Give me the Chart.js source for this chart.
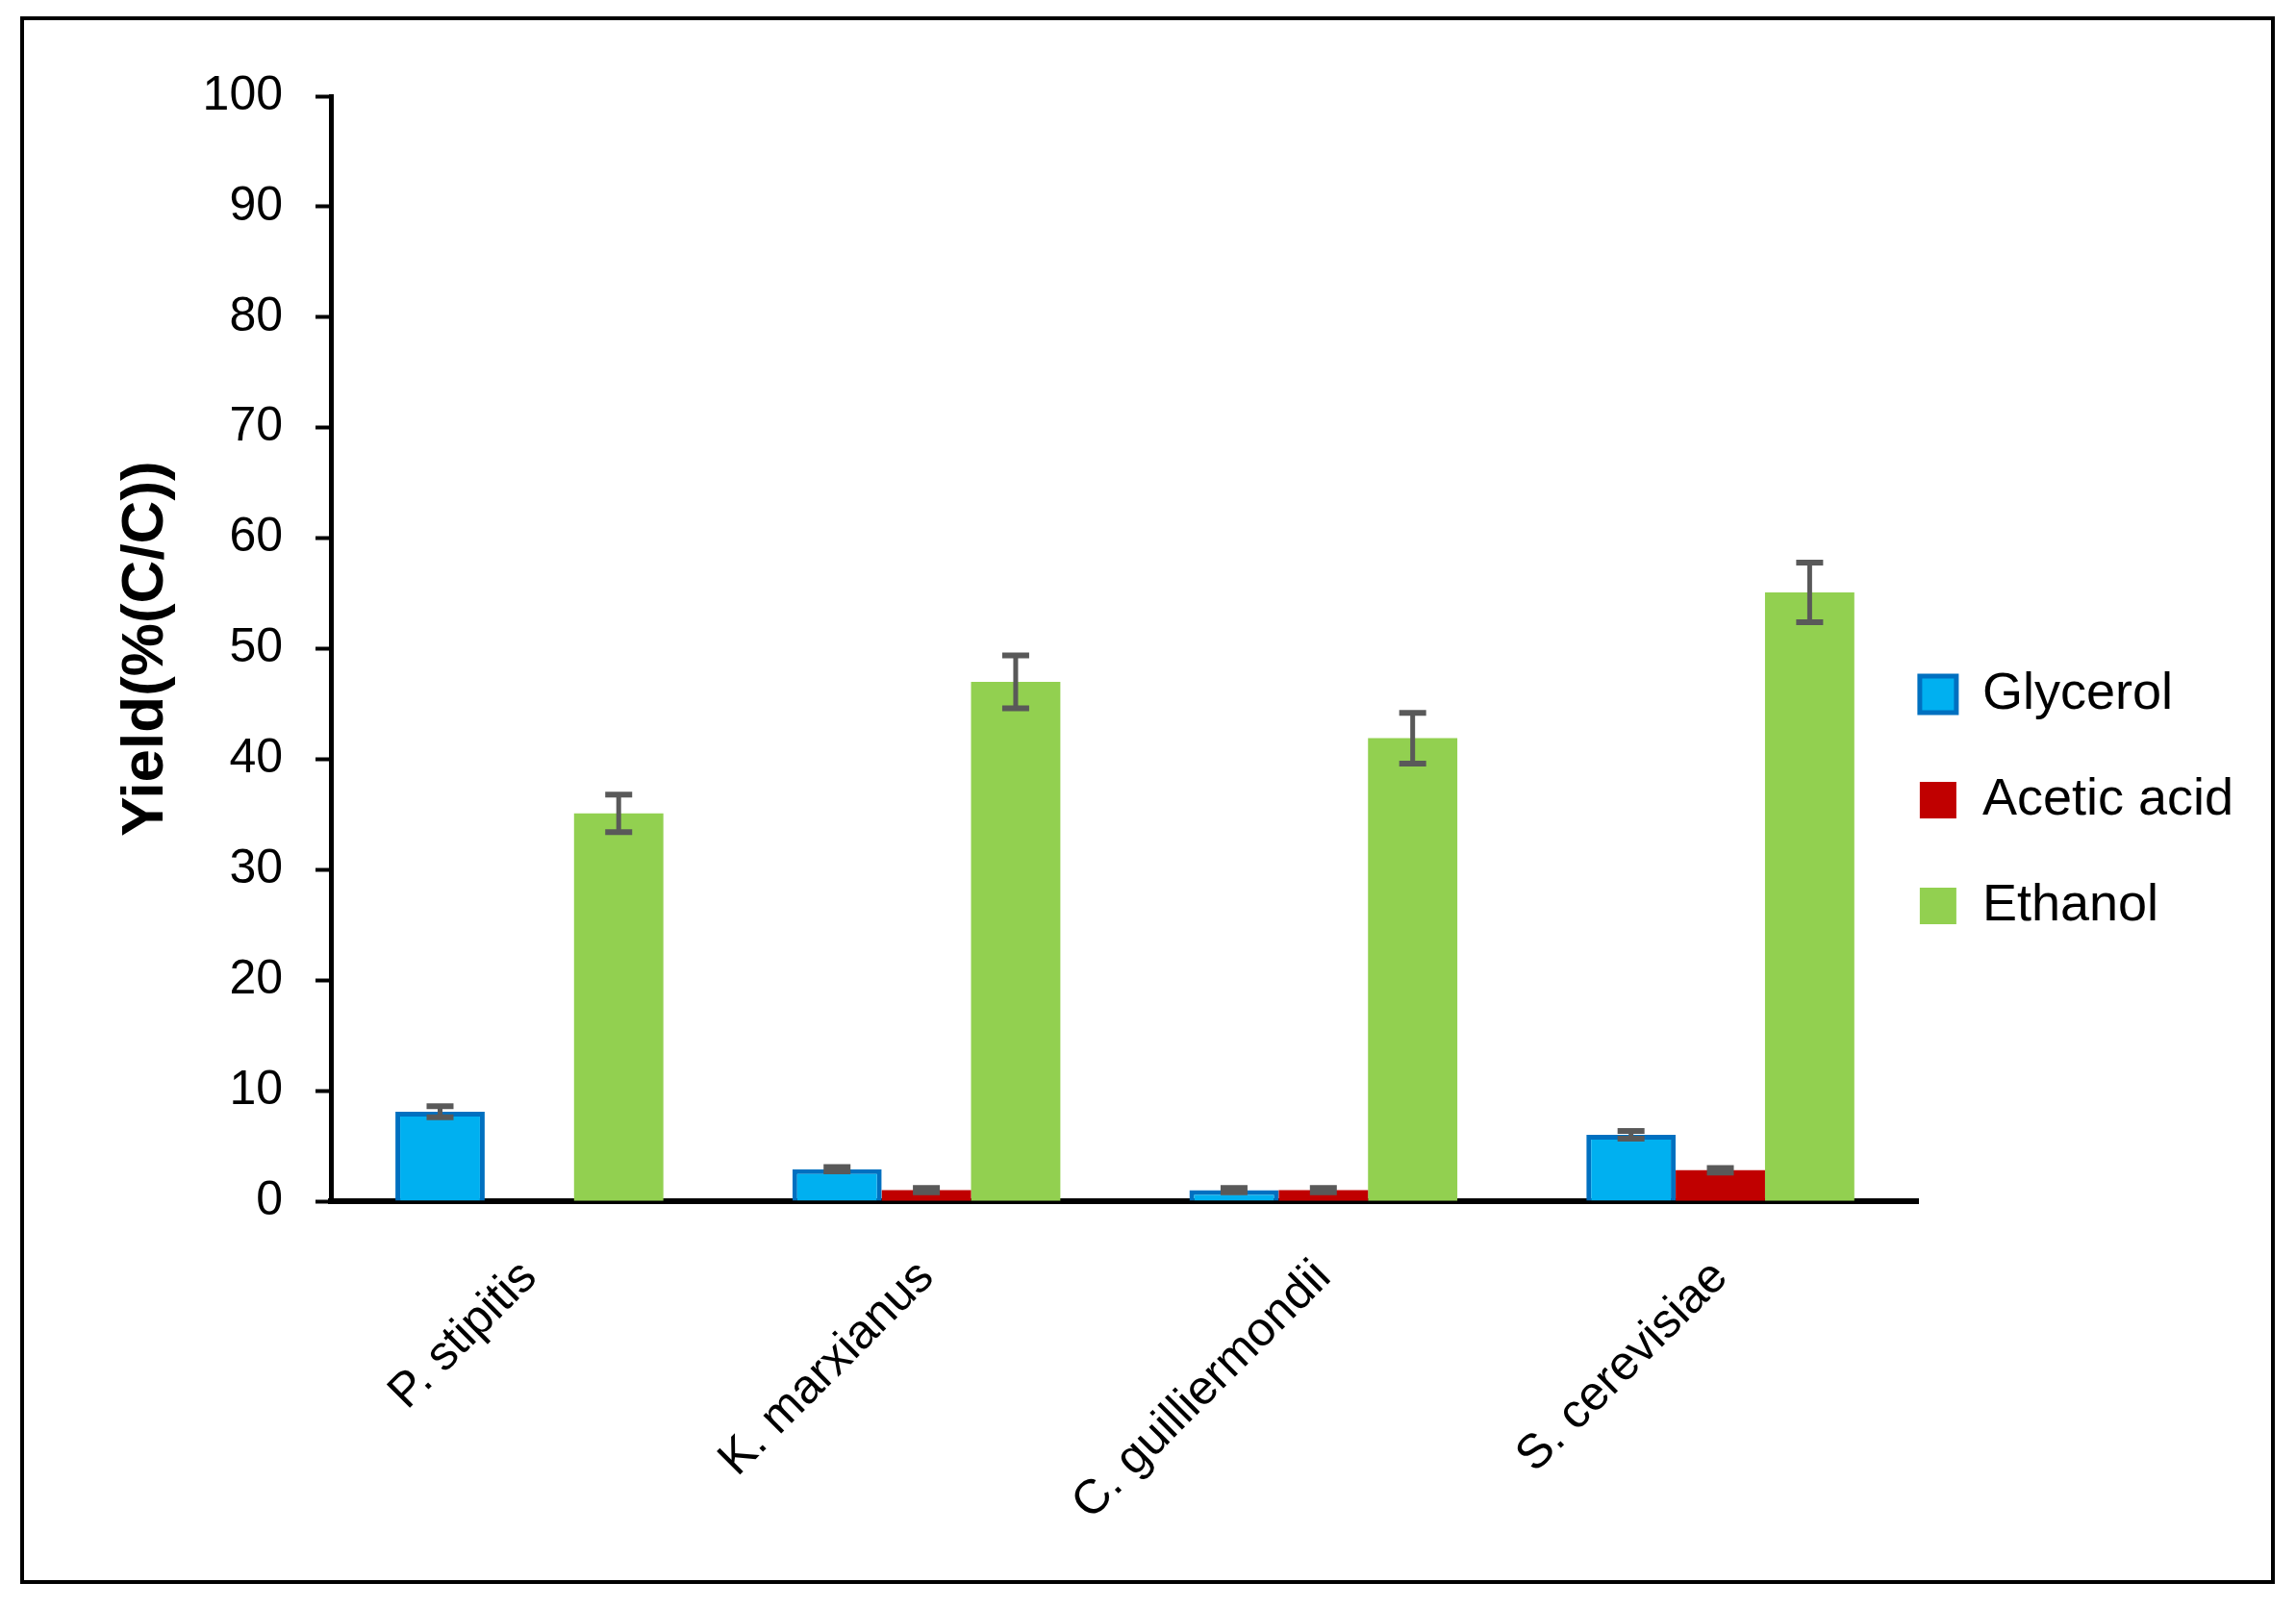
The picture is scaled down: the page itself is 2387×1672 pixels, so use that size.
<!DOCTYPE html>
<html>
<head>
<meta charset="utf-8">
<script src="https://cdn.jsdelivr.net/npm/chart.js@4/dist/chart.umd.min.js"></script>
<style>
    body { margin: 0; background: #ffffff; }
    canvas { display: block; }
</style>
</head>
<body>
<canvas id="myChart" width="2387" height="1672"></canvas>
<script>
const categories = ['P. stipitis', 'K. marxianus', 'C. guilliermondii', 'S. cerevisiae'];

const glycerol = [8.1, 2.9, 1.0, 6.0];
const glycerolErr = [0.5, 0.2, 0.2, 0.35];

const aceticAcid = [null, 1.0, 1.0, 2.8];
const aceticAcidErr = [null, 0.2, 0.2, 0.2];

const ethanol = [35.1, 47.0, 41.9, 55.1];
const ethanolErr = [1.7, 2.4, 2.3, 2.7];

const yTicks = [0, 10, 20, 30, 40, 50, 60, 70, 80, 90, 100];

const FONT = "'Liberation Sans', Arial, sans-serif";

/**
 * White background and the outer frame.
 */
const framePlugin = {
    id: 'frame',
    beforeDraw: (chart) => {
        const ctx = chart.ctx;
        ctx.save();
        ctx.fillStyle = '#ffffff';
        ctx.fillRect(0, 0, chart.width, chart.height);
        ctx.strokeStyle = '#000000';
        ctx.lineWidth = 4;
        ctx.strokeRect(23, 19, 2340, 1626);
        ctx.restore();
    },
};

/**
 * Moves the legend closer to the plot, like the original.
 */
const legendShiftPlugin = {
    id: 'legendShift',
    afterLayout: (chart) => {
        const legend = chart.legend;
        legend.left -= 55;
        legend.right -= 55;
        legend.top -= 54;
        legend.bottom -= 54;
    },
};

/**
 * Draws the error bars from the error arrays, through the y scale.
 */
const errorBarPlugin = {
    id: 'errorBars',
    afterDatasetsDraw: (chart) => {
        const ctx = chart.ctx;
        const yScale = chart.scales.y;

        chart.data.datasets.forEach((dataset, i) => {
            const meta = chart.getDatasetMeta(i);
            meta.data.forEach((bar, j) => {
                const value = dataset.data[j];
                const err = dataset.errors[j];
                if (value === null || err === null) {
                    return;
                }
                const yHigh = yScale.getPixelForValue(value + err);
                const yLow = yScale.getPixelForValue(value - err);
                const x = bar.x;

                ctx.save();
                ctx.strokeStyle = '#595959';
                ctx.lineWidth = 5;
                ctx.beginPath();
                ctx.moveTo(x, yHigh);
                ctx.lineTo(x, yLow);
                ctx.stroke();

                ctx.lineWidth = 6;
                ctx.beginPath();
                ctx.moveTo(x - 14, yHigh);
                ctx.lineTo(x + 14, yHigh);
                ctx.moveTo(x - 14, yLow);
                ctx.lineTo(x + 14, yLow);
                ctx.stroke();
                ctx.restore();
            });
        });
    },
};

const createChart = () => {
    const chartData = {
        labels: categories,
        datasets: [
            {
                label: 'Glycerol',
                data: glycerol,
                errors: glycerolErr,
                backgroundColor: '#00b0f0',
                borderColor: '#0070c0',
                borderWidth: 5,
            },
            {
                label: 'Acetic acid',
                data: aceticAcid,
                errors: aceticAcidErr,
                backgroundColor: '#c00000',
                borderWidth: 0,
            },
            {
                label: 'Ethanol',
                data: ethanol,
                errors: ethanolErr,
                backgroundColor: '#92d050',
                borderWidth: 0,
            },
        ],
    };

    const config = {
        type: 'bar',
        data: chartData,
        options: {
            responsive: false,
            animation: false,
            layout: {
                padding: { top: 100, left: 0, right: 0, bottom: 0 },
            },
            datasets: {
                bar: {
                    barPercentage: 1.0,
                    categoryPercentage: 0.675,
                },
            },
            plugins: {
                tooltip: { enabled: false },
                legend: {
                    position: 'right',
                    labels: {
                        boxWidth: 38,
                        boxHeight: 38,
                        padding: 56,
                        color: '#000000',
                        font: { family: FONT, size: 54 },
                    },
                },
            },
            scales: {
                x: {
                    grid: { display: true, drawOnChartArea: false, drawTicks: false },
                    border: { display: true, color: '#000000', width: 6 },
                    ticks: {
                        color: '#000000',
                        font: { family: FONT, size: 50 },
                        minRotation: 45,
                        maxRotation: 45,
                        padding: 50,
                    },
                    afterFit: (scale) => {
                        scale.height = 423;
                    },
                },
                y: {
                    min: 0,
                    max: 100,
                    afterBuildTicks: (scale) => {
                        scale.ticks = yTicks.map((v) => ({ value: v }));
                    },
                    grid: {
                        drawOnChartArea: false,
                        drawTicks: true,
                        tickLength: 16,
                        tickWidth: 4,
                        tickColor: '#000000',
                    },
                    border: { display: true, color: '#000000', width: 5 },
                    ticks: {
                        color: '#000000',
                        font: { family: FONT, size: 50 },
                        padding: 34,
                    },
                    title: {
                        display: true,
                        text: 'Yield(%(C/C))',
                        color: '#000000',
                        font: { family: FONT, size: 62, weight: 'bold' },
                        padding: { top: 115, bottom: 0 },
                    },
                    afterFit: (scale) => {
                        scale.width = 344;
                    },
                },
            },
        },
        plugins: [framePlugin, legendShiftPlugin, errorBarPlugin],
    };

    return new Chart(document.getElementById('myChart'), config);
};

createChart();
</script>
</body>
</html>
